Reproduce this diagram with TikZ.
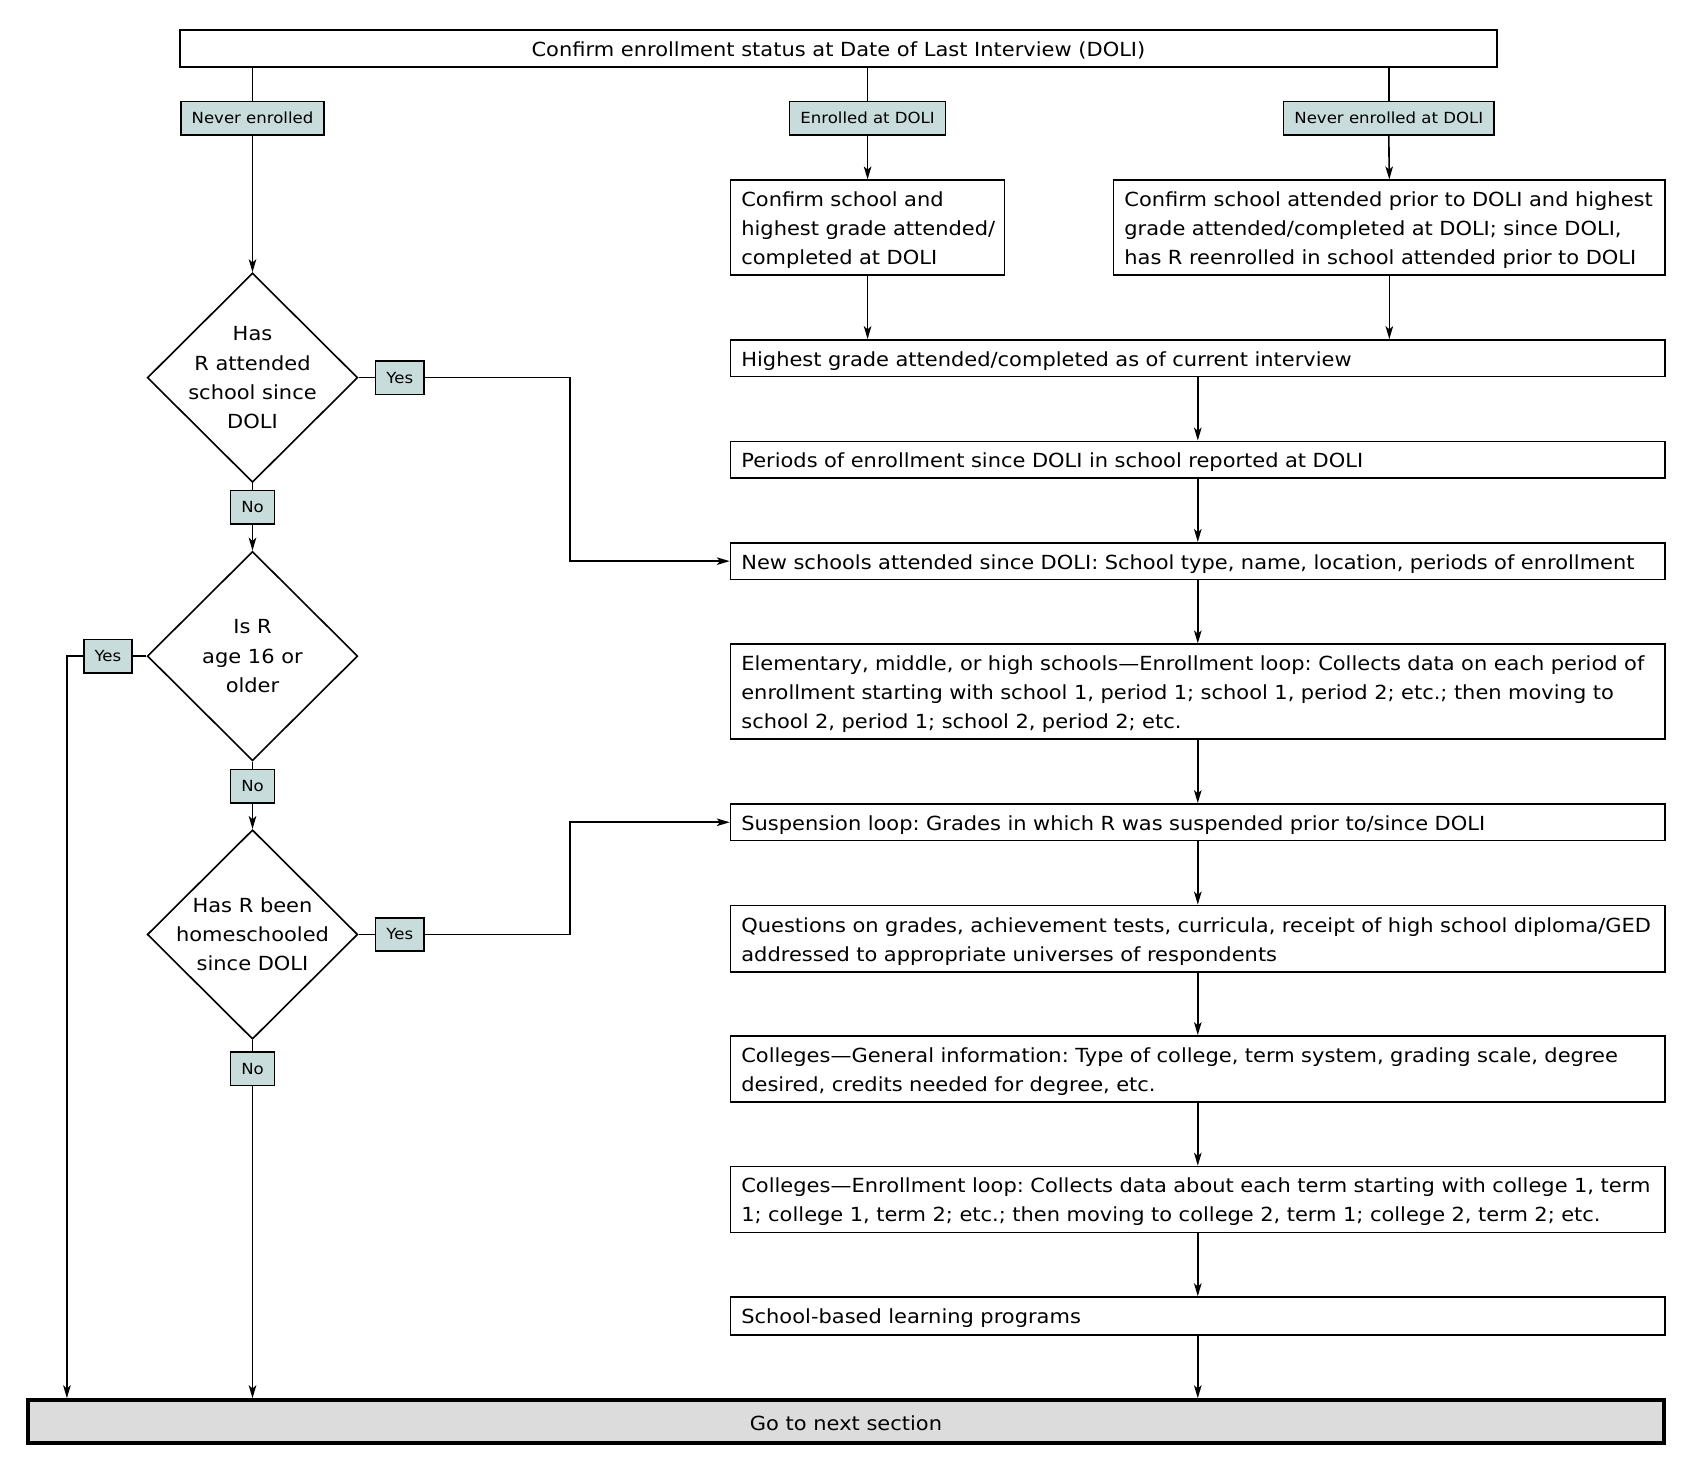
\documentclass[tikz,border=0pt]{standalone}
\usepackage{fontspec}
\setmainfont{DejaVu Sans}[FakeStretch=1.08]
\usetikzlibrary{shapes.geometric,arrows.meta}
\definecolor{lblfill}{RGB}{200,220,220}
\definecolor{gofill}{RGB}{220,220,220}
\frenchspacing
\tikzset{
  txt/.style={font=\fontsize{18}{27}\selectfont\frenchspacing,
    execute at begin node={\rule{0pt}{18.5pt}}},
  onetxt/.style={font=\fontsize{18}{27}\selectfont\frenchspacing,
    execute at begin node={\rule{0pt}{16.5pt}}},
  box/.style={txt,draw=black,line width=1.5pt,rectangle,inner xsep=10pt,inner ysep=0pt,align=left},
  lbl/.style={draw=black,line width=1.5pt,rectangle,fill=lblfill,inner xsep=10pt,inner ysep=0pt,
    minimum height=31pt,font=\fontsize{14.2}{17}\selectfont},
  dia/.style={draw=black,line width=1.5pt,diamond,inner sep=0pt,minimum width=195pt,minimum height=194pt},
  dtext/.style={align=center,font=\fontsize{18}{27}\selectfont,inner sep=0pt},
  con/.style={line width=1.5pt},
  arr/.style={line width=1.5pt,-{Stealth[length=12pt,width=7pt,inset=3pt]}}
}
\begin{document}
\begin{tikzpicture}[x=1pt,y=-1pt]
\useasboundingbox (0,0) rectangle (1568,1369.6);
% top
\node[onetxt,draw=black,line width=1.5pt,minimum width=1220pt,minimum height=34pt,inner sep=0pt] (top) at (777,45) {Confirm enrollment status at Date of Last Interview (DOLI)};
\node[lbl] (l1) at (234,109.5) {Never enrolled};
\node[lbl] (l2) at (804,109.5) {Enrolled at DOLI};
\node[lbl] (l3) at (1287,109.5) {Never enrolled at DOLI};
% upper boxes
\node[box,text width=234pt,minimum height=88pt] (b1) at (804,211) {\mbox{Confirm school and}\\\mbox{highest grade attended/}\\\mbox{completed at DOLI}};
\node[box,text width=491pt,minimum height=88pt] (b2) at (1287.5,211) {Confirm school attended prior to DOLI and highest\\grade attended/completed at DOLI; since DOLI,\\has R reenrolled in school attended prior to DOLI};
% right column
\node[box,text width=846pt,minimum height=34pt] (h1) at (1110,332) {Highest grade attended/completed as of current interview};
\node[box,text width=846pt,minimum height=34pt] (p1) at (1110,426) {Periods of enrollment since DOLI in school reported at DOLI};
\node[box,text width=846pt,minimum height=34pt] (n1) at (1110,520) {New schools attended since DOLI: School type, name, location, periods of enrollment};
\node[box,text width=846pt,minimum height=88pt] (e1) at (1110,641) {Elementary, middle, or high schools—Enrollment loop: Collects data on each period of\\enrollment starting with school 1, period 1; school 1, period 2; etc.; then moving to\\school 2, period 1; school 2, period 2; etc.};
\node[box,text width=846pt,minimum height=34pt] (s1) at (1110,762) {Suspension loop: Grades in which R was suspended prior to/since DOLI};
\node[box,text width=846pt,minimum height=62pt] (q1) at (1110,870) {Questions on grades, achievement tests, curricula, receipt of high school diploma/GED\\addressed to appropriate universes of respondents};
\node[box,text width=846pt,minimum height=61pt] (c1) at (1110,990.5) {Colleges—General information: Type of college, term system, grading scale, degree\\desired, credits needed for degree, etc.};
\node[box,text width=846pt,minimum height=61pt] (c2) at (1110,1111.5) {Colleges—Enrollment loop: Collects data about each term starting with college 1, term\\1; college 1, term 2; etc.; then moving to college 2, term 1; college 2, term 2; etc.};
\node[box,text width=846pt,minimum height=35pt] (sb) at (1110,1219.5) {School-based learning programs};
\node[onetxt,draw=black,line width=3.5pt,fill=gofill,minimum width=1516pt,minimum height=40pt,inner sep=0pt] (go) at (784,1317.5) {Go to next section};
% left column
\node[dia] (d1) at (234,350) {};
\node[dtext] (d1t) at (d1.center) {Has\\R attended\\school since\\DOLI};
\node[dia] (d2) at (234,608) {};
\node[dtext] (d2t) at (d2.center) {Is R\\age 16 or\\older};
\node[dia] (d3) at (234,866) {};
\node[dtext] (d3t) at (d3.center) {Has R been\\homeschooled\\since DOLI};
\node[lbl] (y1) at (370.5,350) {Yes};
\node[lbl] (no1) at (234,470) {No};
\node[lbl] (y2) at (100,608) {Yes};
\node[lbl] (no2) at (234,728.5) {No};
\node[lbl] (y3) at (370.5,866) {Yes};
\node[lbl] (no3) at (234,990.5) {No};
\coordinate (j1) at (528,350);
\coordinate (j2) at (62,608);
\coordinate (j3) at (528,866);
% connectors top
\draw[con] (l1 |- top.south) -- (l1.north);
\draw[con] (l2 |- top.south) -- (l2.north);
\draw[con] (l3 |- top.south) -- (l3.north);
\draw[arr] (l2.south) -- (b1.north);
\draw[arr] (l3.south) -- (b2.north);
\draw[arr] (b1.south) -- (b1.south |- h1.north);
\draw[arr] (b2.south) -- (b2.south |- h1.north);
\draw[arr] (h1.south) -- (p1.north);
\draw[arr] (p1.south) -- (n1.north);
\draw[arr] (n1.south) -- (e1.north);
\draw[arr] (e1.south) -- (s1.north);
\draw[arr] (s1.south) -- (q1.north);
\draw[arr] (q1.south) -- (c1.north);
\draw[arr] (c1.south) -- (c2.north);
\draw[arr] (c2.south) -- (sb.north);
\draw[arr] (sb.south) -- (sb.south |- go.north);
% left connectors
\draw[arr] (l1.south) -- (d1.north);
\draw[con] (d1.east) -- (y1.west);
\draw[arr] (y1.east) -- (j1) |- (n1.west);
\draw[con] (d1.south) -- (no1.north);
\draw[arr] (no1.south) -- (d2.north);
\draw[con] (d2.west) -- (y2.east);
\draw[arr] (y2.west) -- (j2) -- (j2 |- go.north);
\draw[con] (d2.south) -- (no2.north);
\draw[arr] (no2.south) -- (d3.north);
\draw[con] (d3.east) -- (y3.west);
\draw[arr] (y3.east) -- (j3) |- (s1.west);
\draw[con] (d3.south) -- (no3.north);
\draw[arr] (no3.south) -- (no3.south |- go.north);
\end{tikzpicture}
\end{document}
